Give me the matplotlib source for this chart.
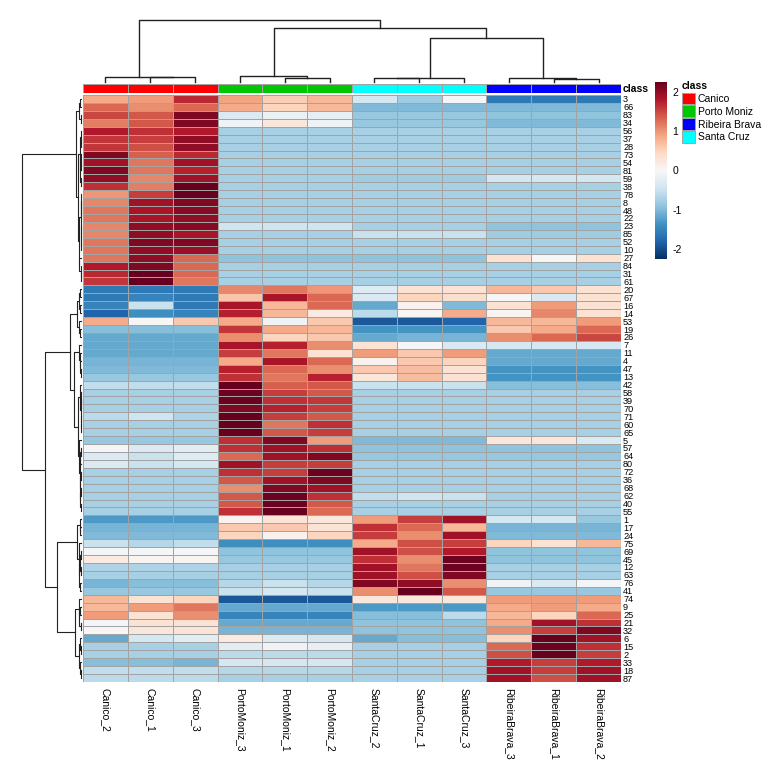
import numpy as np
import matplotlib
matplotlib.use("Agg")
import matplotlib.pyplot as plt
from matplotlib.colors import ListedColormap
from matplotlib.patches import Patch

plt.rcParams['font.family'] = ['Liberation Sans', 'DejaVu Sans']
plt.rcParams['axes.unicode_minus'] = False

# column order as shown in the chart
samples = ["Canico_2", "Canico_1", "Canico_3",
           "PortoMoniz_3", "PortoMoniz_1", "PortoMoniz_2",
           "SantaCruz_2", "SantaCruz_1", "SantaCruz_3",
           "RibeiraBrava_3", "RibeiraBrava_1", "RibeiraBrava_2"]
sample_class = ["Canico"] * 3 + ["Porto Moniz"] * 3 + ["Santa Cruz"] * 3 + ["Ribeira Brava"] * 3
classes = ["Canico", "Porto Moniz", "Ribeira Brava", "Santa Cruz"]
class_colors = {"Canico": "#FF0000", "Porto Moniz": "#00C800",
                "Ribeira Brava": "#0000FF", "Santa Cruz": "#00FFFF"}

# row order as shown (top to bottom)
features = ["3", "66", "83", "34", "56", "37", "28", "73", "54", "81", "59", "38",
            "78", "8", "48", "22", "23", "85", "52", "10", "27", "84", "31", "61",
            "20", "67", "16", "14", "53", "19", "26", "7", "11", "4", "47", "13",
            "42", "58", "39", "70", "71", "60", "65", "5", "57", "64", "80", "72",
            "36", "68", "62", "40", "55", "1", "17", "24", "75", "69", "45", "12",
            "63", "76", "41", "74", "9", "25", "21", "32", "6", "15", "2", "33",
            "18", "87"]

# standardized values per class, one triple per feature (row order above)
canico = [
    (0.85, 0.95, 1.7), (1.3, 1.05, 1.3), (1.5, 1.4, 2.1), (1.15, 1.4, 2.1), (1.8, 1.65, 1.8), (1.6, 1.55, 2.0),
    (1.6, 1.45, 2.0), (2.1, 1.35, 1.7), (1.9, 1.2, 1.9), (2.1, 1.2, 1.75), (2.0, 1.1, 1.9), (1.65, 1.15, 2.25),
    (1.0, 1.55, 2.4), (1.1, 1.9, 2.1), (1.2, 1.85, 2.05), (1.2, 1.85, 2.0), (1.1, 2.0, 2.05), (1.1, 2.0, 1.85),
    (1.2, 2.1, 2.1), (1.2, 2.0, 1.95), (1.2, 2.0, 1.3), (1.8, 2.1, 1.3), (1.7, 2.3, 1.3), (1.6, 2.4, 1.2),
    (-1.6, -1.6, -1.6), (-1.6, -1.5, -1.6), (-1.5, -0.5, -1.6), (-1.8, -1.4, -1.5), (0.85, 0.0, 0.6), (-0.95, -0.95, -0.95),
    (-1.15, -1.15, -1.15), (-1.15, -1.15, -1.15), (-1.15, -1.15, -1.15), (-1.05, -1.05, -1.05), (-1.0, -1.0, -1.0), (-0.85, -0.85, -0.85),
    (-0.55, -0.55, -0.55), (-0.75, -0.75, -0.75), (-0.75, -0.75, -0.75), (-0.75, -0.75, -0.75), (-0.6, -0.45, -0.7), (-0.75, -0.75, -0.75),
    (-0.75, -0.75, -0.75), (-0.85, -0.85, -0.85), (-0.05, -0.35, -0.25), (-0.35, -0.5, -0.3), (-0.35, -0.5, -0.4), (-0.75, -0.75, -0.75),
    (-0.75, -0.75, -0.75), (-0.75, -0.75, -0.75), (-0.75, -0.75, -0.75), (-0.75, -0.75, -0.75), (-0.75, -0.75, -0.75), (-1.3, -1.3, -1.3),
    (-1.05, -1.05, -1.05), (-1.0, -1.0, -1.0), (-0.5, -0.65, -0.55), (-0.05, -0.05, -0.05), (0.2, 0.05, 0.05), (-0.7, -0.7, -0.7),
    (-0.75, -0.75, -0.75), (-1.05, -0.95, -0.95), (-0.85, -0.85, -0.85), (0.75, 0.35, 0.5), (0.75, 0.95, 1.2), (0.95, 0.35, 1.05),
    (-0.05, 0.35, 0.35), (0.0, 0.25, 0.3), (-1.15, -0.4, -0.25), (-0.75, -0.75, -0.75), (-0.75, -0.75, -0.75), (-0.95, -0.95, -1.05),
    (-0.55, -0.55, -0.55), (-0.6, -0.6, -0.6),
]
porto_moniz = [
    (0.9, 0.55, 0.75), (0.85, 0.5, 0.75), (-0.35, -0.15, -0.2), (-0.1, 0.25, -0.1), (-0.75, -0.75, -0.75), (-0.75, -0.75, -0.75),
    (-0.75, -0.75, -0.75), (-0.75, -0.75, -0.75), (-0.75, -0.75, -0.75), (-0.75, -0.75, -0.75), (-0.75, -0.75, -0.75), (-0.75, -0.75, -0.75),
    (-0.75, -0.75, -0.75), (-0.75, -0.75, -0.75), (-0.75, -0.75, -0.75), (-0.75, -0.75, -0.75), (-0.45, -0.45, -0.45), (-0.75, -0.75, -0.75),
    (-0.75, -0.75, -0.75), (-0.75, -0.75, -0.75), (-0.9, -0.9, -0.9), (-0.75, -0.75, -0.75), (-0.75, -0.75, -0.75), (-0.75, -0.75, -0.75),
    (1.1, 1.2, 1.0), (0.65, 1.85, 1.3), (1.85, 0.75, 1.3), (1.75, 0.75, 0.2), (0.85, -0.1, 0.6), (1.6, 0.85, 0.75),
    (1.05, 0.5, 0.6), (1.85, 1.75, 1.05), (1.55, 1.2, 0.35), (0.85, 1.85, 1.3), (1.75, 1.3, 1.05), (1.65, 1.2, 1.75),
    (2.3, 1.35, 1.4), (2.2, 1.55, 1.4), (2.2, 1.65, 1.6), (2.1, 1.75, 1.55), (2.4, 1.55, 1.4), (2.4, 1.2, 1.65),
    (2.4, 1.4, 1.55), (1.65, 2.1, 0.95), (1.65, 1.9, 1.65), (1.3, 1.9, 2.1), (1.9, 1.55, 1.55), (1.65, 1.55, 2.2),
    (1.4, 1.9, 2.1), (1.05, 2.1, 1.9), (1.4, 2.2, 1.65), (1.4, 2.2, 1.4), (1.65, 2.3, 1.3), (0.1, 0.3, 0.25),
    (0.6, 0.6, 0.3), (0.5, 0.1, 0.5), (-1.4, -1.4, -1.4), (-0.9, -0.9, -0.9), (-0.85, -0.85, -0.85), (-0.75, -0.75, -0.75),
    (-0.75, -0.75, -0.75), (-0.65, -0.5, -0.65), (-0.5, -0.4, -0.5), (-1.9, -1.9, -1.9), (-1.15, -1.15, -1.15), (-1.5, -1.5, -1.5),
    (-1.15, -1.15, -1.15), (-1.05, -1.05, -1.05), (0.2, -0.35, -0.4), (-0.25, -0.1, -0.2), (-0.6, -0.6, -0.6), (-0.4, -0.4, -0.4),
    (-0.65, -0.65, -0.65), (-0.75, -0.75, -0.75),
]
santa_cruz = [
    (-0.4, -0.8, -0.05), (-1.0, -1.0, -1.0), (-0.85, -0.85, -0.85), (-0.85, -0.85, -0.85), (-0.75, -0.75, -0.75), (-0.75, -0.75, -0.75),
    (-0.75, -0.75, -0.75), (-0.75, -0.75, -0.75), (-0.75, -0.75, -0.75), (-0.75, -0.75, -0.75), (-0.8, -0.8, -0.8), (-0.75, -0.75, -0.75),
    (-0.75, -0.75, -0.75), (-0.75, -0.75, -0.75), (-0.75, -0.75, -0.75), (-0.75, -0.75, -0.75), (-0.75, -0.75, -0.75), (-0.5, -0.5, -0.5),
    (-0.75, -0.75, -0.75), (-0.75, -0.75, -0.75), (-0.9, -0.9, -0.9), (-0.75, -0.75, -0.75), (-0.75, -0.75, -0.75), (-0.75, -0.75, -0.75),
    (-0.3, 0.35, 0.35), (-0.35, 0.5, 0.4), (-1.15, 0.1, -1.0), (-0.6, 0.05, 0.85), (-1.9, -1.9, -1.8), (-1.35, -1.35, -1.35),
    (-1.15, -1.05, -1.05), (0.35, 0.0, -0.35), (0.95, 0.6, 0.95), (0.1, 0.6, 0.5), (0.6, 0.7, 0.35), (0.25, 0.7, 0.35),
    (-0.5, -0.5, -0.5), (-0.75, -0.75, -0.75), (-0.75, -0.75, -0.75), (-0.75, -0.75, -0.75), (-0.75, -0.75, -0.75), (-0.75, -0.75, -0.75),
    (-0.75, -0.75, -0.75), (-1.0, -1.0, -1.0), (-0.9, -0.9, -0.9), (-0.85, -0.85, -0.85), (-0.75, -0.75, -0.75), (-0.75, -0.75, -0.75),
    (-0.75, -0.75, -0.75), (-0.75, -0.75, -0.75), (-0.55, -0.45, -0.5), (-0.75, -0.75, -0.75), (-0.75, -0.75, -0.75), (0.95, 1.55, 1.9),
    (1.65, 1.3, 0.75), (1.55, 1.05, 1.9), (0.85, 1.45, 1.55), (1.9, 1.45, 1.8), (1.65, 1.05, 2.2), (1.9, 1.2, 2.2),
    (1.9, 1.45, 2.1), (2.1, 2.0, 1.05), (1.05, 2.4, 1.4), (0.25, 0.25, 0.25), (-1.3, -1.3, -1.3), (-0.95, -0.95, -0.6),
    (-0.9, -0.9, -0.9), (-0.9, -0.9, -0.9), (-1.15, -0.95, -0.95), (-0.75, -0.75, -0.75), (-0.75, -0.75, -0.75), (-0.75, -0.75, -0.75),
    (-0.75, -0.75, -0.75), (-0.75, -0.75, -0.75),
]
ribeira_brava = [
    (-1.6, -1.6, -1.6), (-1.0, -1.0, -1.0), (-0.9, -0.9, -0.9), (-1.0, -1.0, -1.0), (-0.75, -0.75, -0.75), (-0.75, -0.75, -0.75),
    (-0.75, -0.75, -0.75), (-0.75, -0.75, -0.75), (-0.75, -0.75, -0.75), (-0.75, -0.75, -0.75), (-0.4, -0.4, -0.4), (-0.75, -0.75, -0.75),
    (-0.75, -0.75, -0.75), (-0.75, -0.75, -0.75), (-0.75, -0.75, -0.75), (-0.75, -0.75, -0.75), (-0.9, -0.9, -0.9), (-0.8, -0.8, -0.8),
    (-0.75, -0.75, -0.75), (-0.75, -0.75, -0.75), (0.35, 0.0, 0.35), (-0.75, -0.75, -0.75), (-0.75, -0.75, -0.75), (-0.75, -0.75, -0.75),
    (0.75, 0.6, 0.35), (0.0, -0.35, 0.35), (0.35, 0.95, 0.35), (0.05, 1.1, 0.35), (0.75, 0.75, 0.95), (0.6, 0.85, 1.3),
    (1.05, 1.3, 1.5), (-0.4, -0.4, -0.4), (-1.15, -1.15, -1.15), (-1.15, -1.15, -1.15), (-1.35, -1.35, -1.35), (-1.35, -1.35, -1.35),
    (-0.95, -0.95, -0.95), (-0.75, -0.75, -0.75), (-0.75, -0.75, -0.75), (-0.75, -0.75, -0.75), (-0.75, -0.75, -0.75), (-0.75, -0.75, -0.75),
    (-0.75, -0.75, -0.75), (0.25, 0.25, -0.35), (-0.9, -0.9, -0.9), (-0.85, -0.85, -0.85), (-0.75, -0.75, -0.75), (-0.75, -0.75, -0.75),
    (-0.75, -0.75, -0.75), (-0.75, -0.75, -0.75), (-0.75, -0.75, -0.75), (-0.75, -0.75, -0.75), (-0.75, -0.75, -0.75), (-0.4, -0.4, -0.85),
    (-1.05, -1.05, -1.05), (-1.0, -1.0, -1.0), (0.5, 0.35, 0.75), (-0.9, -0.9, -0.9), (-0.9, -0.9, -0.9), (-0.75, -0.75, -0.75),
    (-0.75, -0.75, -0.75), (-0.1, -0.35, -0.05), (-0.85, -0.85, -0.85), (0.95, 0.95, 0.95), (0.85, 0.95, 0.85), (0.75, 0.5, 1.3),
    (0.85, 1.9, 1.65), (1.05, 1.55, 2.1), (0.5, 2.4, 1.9), (1.3, 2.2, 1.65), (1.45, 2.4, 1.55), (1.8, 1.55, 1.8),
    (1.9, 1.55, 1.9), (1.9, 1.45, 1.9),
]

Z = np.hstack([np.array(canico), np.array(porto_moniz),
               np.array(santa_cruz), np.array(ribeira_brava)])
n_rows, n_cols = Z.shape


def adjacent_ward_d(data):
    """ward.D (Lance-Williams on euclidean distances), only neighbours may merge,
    so the order shown in the heatmap is kept."""
    n = len(data)
    D = np.sqrt(((data[:, None, :] - data[None, :, :]) ** 2).sum(-1))
    size = {i: 1 for i in range(n)}
    pos = {i: i + 0.5 for i in range(n)}
    hgt = {i: 0.0 for i in range(n)}
    order = list(range(n))
    segs = []
    while len(order) > 1:
        k = min(range(len(order) - 1), key=lambda t: D[order[t], order[t + 1]])
        i, j = order[k], order[k + 1]
        h = max(D[i, j], hgt[i], hgt[j])
        segs.append(([hgt[i], h, h, hgt[j]], [pos[i], pos[i], pos[j], pos[j]]))
        ni, nj = size[i], size[j]
        for m in order:
            if m in (i, j):
                continue
            nm = size[m]
            d = ((ni + nm) * D[i, m] + (nj + nm) * D[j, m] - nm * D[i, j]) / (ni + nj + nm)
            D[i, m] = D[m, i] = d
        size[i] = ni + nj
        pos[i] = (pos[i] + pos[j]) / 2
        hgt[i] = h
        order.pop(k + 1)
    return segs, hgt[order[0]]


W, H = 765, 768
fig = plt.figure(figsize=(W / 100, H / 100), dpi=100)


def box(x0, y0, x1, y1):
    # pixel box -> figure fraction
    return [x0 / W, 1 - y1 / H, (x1 - x0) / W, (y1 - y0) / H]


vmin, vmax = -2.25, 2.25
edge = "#a3a3a3"

# heatmap
ax = fig.add_axes(box(83, 95, 621, 682))
mesh = ax.pcolormesh(Z, cmap="RdBu_r", vmin=vmin, vmax=vmax, edgecolors=edge, linewidth=0.7)
ax.set_xlim(0, n_cols)
ax.set_ylim(n_rows, 0)
ax.yaxis.tick_right()
ax.set_yticks(np.arange(n_rows) + 0.5)
ax.set_yticklabels(features, fontsize=6.6)
ax.set_xticks(np.arange(n_cols) + 0.5)
ax.set_xticklabels(samples, rotation=270, fontsize=7.5, va="top")
ax.tick_params(length=0, pad=1.5)
ax.tick_params(axis="x", pad=4)
for s in ax.spines.values():
    s.set_visible(False)

# class annotation bar
ax_ann = fig.add_axes(box(83, 83.5, 621, 93))
ann_idx = np.array([[classes.index(c) for c in sample_class]])
ax_ann.pcolormesh(ann_idx, cmap=ListedColormap([class_colors[c] for c in classes]),
                  vmin=-0.5, vmax=len(classes) - 0.5, edgecolors=edge, linewidth=0.7)
ax_ann.set_xlim(0, n_cols)
ax_ann.set_xticks([])
ax_ann.set_yticks([])
for s in ax_ann.spines.values():
    s.set_visible(False)
fig.text(623 / W, 1 - 88.5 / H, "class", fontsize=7.5, fontweight="bold", va="center")

# column dendrogram
ax_cd = fig.add_axes(box(83, 20, 621, 82))
col_segs, col_top = adjacent_ward_d(Z.T)
for hs, ps in col_segs:
    ax_cd.plot(ps, hs, color="#222222", lw=1.0, clip_on=False)
ax_cd.set_xlim(0, n_cols)
ax_cd.set_ylim(0, col_top)
ax_cd.axis("off")

# row dendrogram
ax_rd = fig.add_axes(box(22, 95, 81, 682))
row_segs, row_top = adjacent_ward_d(Z)
for hs, ps in row_segs:
    ax_rd.plot(hs, ps, color="#222222", lw=0.8, clip_on=False)
ax_rd.set_ylim(n_rows, 0)
ax_rd.set_xlim(row_top, 0)
ax_rd.axis("off")

# colour key
cax = fig.add_axes(box(655, 82, 667, 259))
cb = fig.colorbar(mesh, cax=cax, ticks=[-2, -1, 0, 1, 2])
cb.outline.set_visible(False)
cb.ax.tick_params(length=0, labelsize=7.5, pad=4)

# class legend
handles = [Patch(facecolor=class_colors[c], edgecolor=edge, linewidth=0.7) for c in classes]
leg = fig.legend(handles, classes, loc="upper left", bbox_to_anchor=(682 / W, 1 - 81 / H),
                 frameon=False, fontsize=7.5, title="class", alignment="left",
                 title_fontproperties={"weight": "bold", "size": 7.5},
                 handlelength=1.2, handleheight=1.3, labelspacing=0.15,
                 handletextpad=0.3, borderpad=0, borderaxespad=0)

fig.savefig("out.png", dpi=100)
